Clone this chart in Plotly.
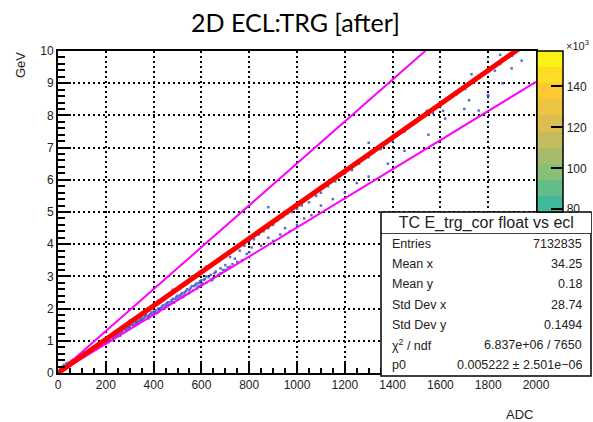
import plotly.graph_objects as go

# ---------------- data ----------------
fit_p0 = 0.005222          # red fit line slope (GeV / ADC)
upper_slope = 0.00651      # upper magenta cut line
lower_slope = 0.00452      # lower magenta cut line
line_adc = [0, 2000]

bin_adc = [10, 18, 25, 35, 45, 55, 65, 80, 95, 110,
           120, 140, 160, 180, 200, 210, 230, 250, 260, 270, 280, 290, 300, 310, 320, 330, 340, 350,
           360, 370, 380, 390, 400, 410, 420, 430, 440, 450, 460, 470, 480, 490, 500, 510, 520, 530,
           540, 550, 560, 570, 580, 590, 600, 610, 620, 640, 660, 680, 700,
           200, 230, 260, 300, 330, 350, 380, 400, 420, 450, 480, 500, 520, 550, 580, 600, 620, 650,
           680, 720, 750,
           380, 460, 530, 590, 640, 700, 770,
           300, 420, 480, 560, 620,
           155, 175, 195, 215, 240, 245, 265, 285, 295, 315, 325, 335, 345, 355, 365, 375, 385, 395,
           405, 415, 425, 435, 445, 455, 465, 475, 485, 495, 505, 515, 525, 535, 545, 555, 565, 575,
           585, 595, 605, 615, 630, 645, 655, 670, 690, 710, 730, 740, 790, 810,
           720, 760, 780, 800, 820, 840, 860, 880, 900, 920, 940, 960, 980, 1000, 1020, 1050, 1080,
           1100, 1130, 1160, 1200, 1230, 1260, 1300, 1350, 1400, 1450, 1500, 1550, 1600, 1650, 1700,
           1750, 1800, 1850, 1900,
           800, 850, 880, 900, 930, 950, 970, 1000, 1030, 1060, 1100, 1150, 1200, 1250, 1300, 1380,
           1450, 1550, 1620, 1700, 1760, 1800, 1860,
           880, 1300, 1730, 1850, 1898, 1828, 1720, 1799, 1611, 1543, 1569, 1703, 1668, 1940]
bin_gev = [0.12, 0.2, 0.25, 0.3, 0.33, 0.38, 0.42, 0.5, 0.56, 0.64,
           0.58, 0.68, 0.78, 0.86, 0.98, 0.96, 1.1, 1.2, 1.22, 1.3, 1.36, 1.38, 1.45, 1.5, 1.52, 1.6, 1.62, 1.7,
           1.72, 1.8, 1.78, 1.88, 1.9, 1.95, 2.0, 2.02, 2.1, 2.12, 2.2, 2.2, 2.3, 2.3, 2.4, 2.4, 2.48, 2.5,
           2.6, 2.58, 2.7, 2.7, 2.78, 2.8, 2.88, 2.9, 3.0, 3.05, 3.15, 3.25, 3.35,
           0.92, 1.04, 1.16, 1.4, 1.52, 1.62, 1.74, 1.82, 1.9, 2.05, 2.2, 2.28, 2.35, 2.5, 2.62, 2.75, 2.8, 2.95,
           3.1, 3.3, 3.45,
           1.7, 2.08, 2.42, 2.7, 2.9, 3.2, 3.5,
           1.62, 2.25, 2.58, 3.0, 3.3,
           0.74, 0.83, 0.9, 1.02, 1.12, 1.18, 1.25, 1.33, 1.42, 1.46, 1.57, 1.55, 1.66, 1.64, 1.76, 1.71, 1.83, 1.8,
           1.9, 1.86, 1.96, 2.06, 2.0, 2.16, 2.12, 2.26, 2.18, 2.36, 2.32, 2.44, 2.38, 2.54, 2.46, 2.64, 2.56, 2.74,
           2.68, 2.85, 2.78, 2.92, 2.98, 2.88, 3.1, 3.05, 3.2, 3.28, 3.38, 3.55, 3.7, 3.9,
           3.6, 3.8, 3.95, 4.1, 4.15, 4.3, 4.4, 4.5, 4.6, 4.75, 4.85, 4.95, 5.0, 5.1, 5.2, 5.3, 5.5,
           5.6, 5.8, 5.95, 6.2, 6.3, 6.5, 6.7, 6.95, 7.2, 7.5, 7.8, 8.05, 8.3, 8.6, 8.85,
           9.1, 9.35, 9.6, 9.85,
           3.75, 3.95, 4.2, 4.1, 4.3, 4.5, 4.4, 4.6, 4.8, 4.9, 5.2, 5.4, 5.6, 5.9, 6.1, 6.5,
           6.9, 7.4, 7.9, 8.2, 8.15, 8.6, 9.0,
           5.15, 7.15, 9.28, 9.88, 9.46, 9.39, 8.47, 8.63, 8.14, 8.14, 8.07, 8.82, 8.66, 9.7]

cbar_max = 157300
cbar_visible_min = 78650      # part of the palette not hidden by the stats box
cbar_tickvals = [80000, 100000, 120000, 140000]
cbar_ticktext = ["80", "100", "120", "140"]

stats_title = "TC E_trg_cor float vs ecl"
stats_labels = ["Entries", "Mean x", "Mean y", "Std Dev x", "Std Dev y", "χ<sup>2</sup> / ndf", "p0"]
stats_values = ["7132835", "34.25", "0.18", "28.74", "0.1494", "6.837e+06 / 7650", "0.005222 ± 2.501e−06"]

# ---------------- style helpers ----------------
W, H = 593, 422
L, R, T, B = 58, 536, 51, 373
def px(x):
    return (x - L) / (R - L)
def py(y):
    return (B - y) / (B - T)

bird_r = [0.2082, 0.0592, 0.0780, 0.0232, 0.1802, 0.5301, 0.8186, 0.9956, 0.9764]
bird_g = [0.1664, 0.3599, 0.5041, 0.6419, 0.7178, 0.7492, 0.7328, 0.7862, 0.9832]
bird_b = [0.5293, 0.8684, 0.8385, 0.7914, 0.6425, 0.4662, 0.3499, 0.1968, 0.0539]
def bird(f):
    s = f * 8
    i = min(int(s), 7)
    t = s - i
    c = [a[i] + (a[i + 1] - a[i]) * t for a in (bird_r, bird_g, bird_b)]
    return "rgb(%d,%d,%d)" % tuple(int(round(v * 255)) for v in c)

# 20 ROOT contour bands over [0, cbar_max]; keep the visible ones
ncont = 20
f0 = cbar_visible_min / cbar_max
cscale = []
for k in range(ncont):
    a, b = k / ncont, (k + 1) / ncont
    if b <= f0:
        continue
    col = bird((k + 0.5) / ncont)
    lo = max(a, f0)
    cscale.append([(lo - f0) / (1 - f0), col])
    cscale.append([(b - f0) / (1 - f0), col])
cscale[0][0] = 0.0
cscale[-1][0] = 1.0

FONT = "Liberation Sans, Arial, sans-serif"

fig = go.Figure()

fig.add_trace(go.Scatter(
    x=bin_adc, y=bin_gev, mode="markers",
    marker=dict(symbol="square", size=2.5, color="#3d52c6", opacity=0.85, line=dict(width=0)),
    hoverinfo="skip", showlegend=False))

for slope, col, wd in [(upper_slope, "#ff00ff", 2), (lower_slope, "#ff00ff", 2), (fit_p0, "#ff0000", 5)]:
    fig.add_trace(go.Scatter(x=line_adc, y=[slope * v for v in line_adc], mode="lines",
                             line=dict(color=col, width=wd), hoverinfo="skip", showlegend=False))

bx0, bx1, by0, bysep, by1 = 381, 591, 212, 233, 376

# colour palette (COLZ) - the part above the stats box
fig.add_trace(go.Scatter(
    x=[None], y=[None], mode="markers", showlegend=False, hoverinfo="skip",
    marker=dict(color=[cbar_visible_min], colorscale=cscale, cmin=cbar_visible_min, cmax=cbar_max,
                showscale=True,
                colorbar=dict(x=px(537), xanchor="left", xpad=0, y=py(by0), yanchor="bottom",
                              len=py(T) - py(by0), lenmode="fraction", ypad=0, thickness=26,
                              outlinewidth=1.5, outlinecolor="black",
                              ticks="inside", ticklen=12, tickwidth=2, tickcolor="black",
                              tickvals=cbar_tickvals, ticktext=cbar_ticktext,
                              tickfont=dict(family=FONT, size=12, color="#222")))))

axis_common = dict(showline=True, mirror=True, linecolor="black", linewidth=2,
                   ticks="inside", tickcolor="black", tickwidth=2,
                   showgrid=True, gridcolor="black", gridwidth=2, griddash="2px,3px",
                   zeroline=False, tickfont=dict(family=FONT, size=12, color="#222"))

fig.update_xaxes(range=[0, 2000], dtick=200, tick0=0, ticklen=10,
                 minor=dict(dtick=50, ticklen=5, tickwidth=1.5, tickcolor="black", ticks="inside", showgrid=False),
                 **axis_common)
fig.update_yaxes(range=[0, 10], dtick=1, tick0=0, ticklen=13,
                 minor=dict(dtick=0.2, ticklen=7, tickwidth=1.5, tickcolor="black", ticks="inside", showgrid=False),
                 **axis_common)

shapes = [
    dict(type="rect", xref="paper", yref="paper", x0=px(bx0), x1=px(bx1), y0=py(by1), y1=py(by0),
         fillcolor="white", line=dict(color="black", width=1.5), layer="above"),
    dict(type="line", xref="paper", yref="paper", x0=px(bx0), x1=px(bx1), y0=py(bysep), y1=py(bysep),
         line=dict(color="black", width=1.5), layer="above"),
]

ann = []
ann.append(dict(text="2D ECL:TRG [after]", x=px(295), y=py(22), xref="paper", yref="paper",
                xanchor="center", yanchor="middle", showarrow=False,
                font=dict(family="Lato, Carlito, sans-serif", size=25, color="black")))
ann.append(dict(text="GeV", x=px(21), y=py(65), xref="paper", yref="paper", textangle=-90,
                xanchor="center", yanchor="middle", showarrow=False,
                font=dict(family=FONT, size=13, color="#222")))
ann.append(dict(text="ADC", x=px(519), y=py(414), xref="paper", yref="paper",
                xanchor="center", yanchor="middle", showarrow=False,
                font=dict(family=FONT, size=13, color="#222")))
ann.append(dict(text="×10<sup>3</sup>", x=px(564), y=py(45), xref="paper", yref="paper",
                xanchor="left", yanchor="middle", showarrow=False,
                font=dict(family=FONT, size=11, color="#222")))

# stats title row: white box drawn over the palette's lowest label, as in ROOT
ann.append(dict(text=stats_title, x=px(bx0 + 0.75), y=py(by0 + 0.75), xref="paper", yref="paper",
                xanchor="left", yanchor="top", width=bx1 - bx0 - 1.5, height=bysep - by0 - 1.5,
                align="center", valign="middle", bgcolor="white", borderpad=0, borderwidth=0,
                showarrow=False, font=dict(family=FONT, size=16, color="#222")))
row_y = [243.5, 263.5, 284, 304.5, 325, 345, 364.5]
for lab, val, yy in zip(stats_labels, stats_values, row_y):
    ann.append(dict(text=lab, x=px(390), y=py(yy), xref="paper", yref="paper", xanchor="left",
                    yanchor="middle", showarrow=False, font=dict(family=FONT, size=12.5, color="#222")))
    ann.append(dict(text=val, x=px(584), y=py(yy), xref="paper", yref="paper", xanchor="right",
                    yanchor="middle", showarrow=False, font=dict(family=FONT, size=12.5, color="#222")))

fig.update_layout(width=W, height=H,
                  margin=dict(l=L, r=W - R, t=T, b=H - B, pad=0, autoexpand=False),
                  paper_bgcolor="white", plot_bgcolor="white", showlegend=False,
                  shapes=shapes, annotations=ann)

fig.write_html("out.html")
